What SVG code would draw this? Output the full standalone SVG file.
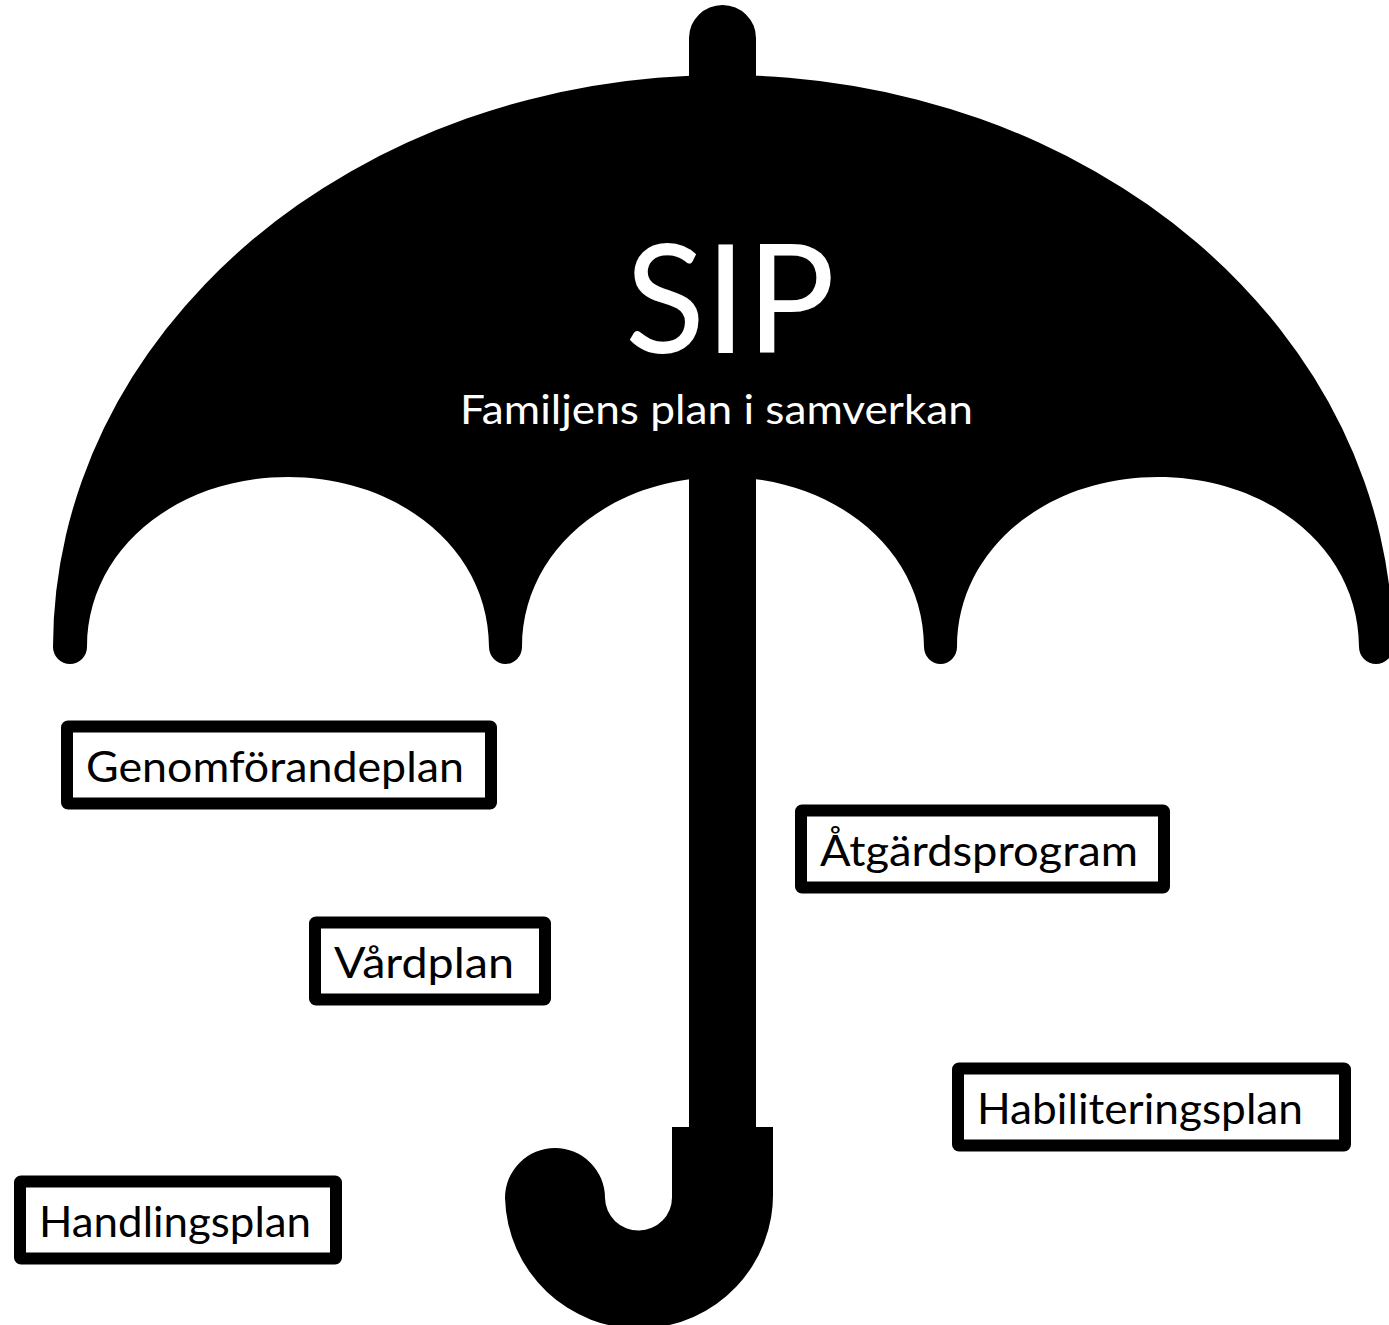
<svg xmlns="http://www.w3.org/2000/svg" width="1389" height="1325" viewBox="0 0 1389 1325">
<style>
.box{fill:#fff;stroke:#000;stroke-width:12;stroke-linejoin:round}
.t{font-family:"Lato","Liberation Sans",sans-serif;fill:#000;font-size:42px}
.w{font-family:"Lato","Liberation Sans",sans-serif;fill:#fff}
</style>
<rect width="1389" height="1325" fill="#fff"/>
<g id="umbrella">
<path fill="#000" d="M53 647A670 572 0 0 1 1393 647A17 17 0 0 1 1359 647C1359 550 1270 477 1158 477C1046 477 957 550 957 647A16.500 17 0 0 1 924 647C924 550 835 477 723 477C611 477 522 550 522 647A16.500 17 0 0 1 489 647C489 550 400 477 288 477C176 477 87 550 87 647A17 17 0 0 1 53 647Z"/>
<path fill="#000" d="M689 80V38A33.500 33 0 0 1 756 38V80Z"/>
<path fill="#000" d="M689 470H756V1127H773V1191A134 134 0 0 1 505 1198A50 50 0 0 1 605 1198A33.500 33 0 0 0 672 1197V1127H689Z"/>
</g>
<g id="sip-title">
<text class="w" x="625" y="353" font-size="151" textLength="210" lengthAdjust="spacingAndGlyphs">SIP</text>
<text class="w" x="460" y="424" font-size="41" textLength="513" lengthAdjust="spacingAndGlyphs">Familjens plan i samverkan</text>
</g>
<g id="genomforandeplan"><rect class="box" x="67" y="726.500" width="424" height="77" rx="1"/><text class="t" x="86" y="782" textLength="378" lengthAdjust="spacingAndGlyphs">Genomförandeplan</text></g>
<g id="atgardsprogram"><rect class="box" x="801" y="810.500" width="363" height="77" rx="1"/><text class="t" x="820" y="866" textLength="318" lengthAdjust="spacingAndGlyphs">Åtgärdsprogram</text></g>
<g id="vardplan"><rect class="box" x="315" y="922.500" width="230" height="77" rx="1"/><text class="t" x="334" y="978" textLength="180" lengthAdjust="spacingAndGlyphs">Vårdplan</text></g>
<g id="habiliteringsplan"><rect class="box" x="958" y="1068.500" width="387" height="77" rx="1"/><text class="t" x="977" y="1124" textLength="326" lengthAdjust="spacingAndGlyphs">Habiliteringsplan</text></g>
<g id="handlingsplan"><rect class="box" x="20" y="1181.500" width="316" height="77" rx="1"/><text class="t" x="39" y="1237" textLength="272" lengthAdjust="spacingAndGlyphs">Handlingsplan</text></g>
</svg>
